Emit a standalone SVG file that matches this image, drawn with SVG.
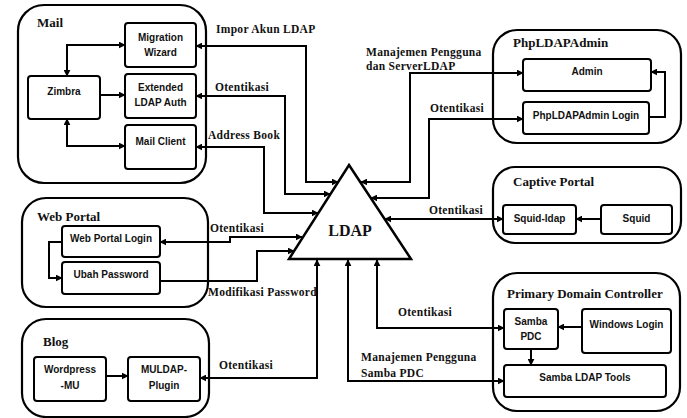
<svg xmlns="http://www.w3.org/2000/svg" width="687" height="418" viewBox="0 0 687 418">
<defs>
<marker id="ah" viewBox="0 0 10 10" refX="9" refY="5" markerWidth="7" markerHeight="7" markerUnits="userSpaceOnUse" orient="auto-start-reverse">
<path d="M0,0 L10,5 L0,10 z" fill="#000"/>
</marker>
<style>
.grp{fill:#fff;stroke:#000;stroke-width:2.2}
.box{fill:#fff;stroke:#000;stroke-width:2}
.t{font-family:"Liberation Sans",Arial,sans-serif;font-weight:bold;font-size:10px;fill:#111;text-anchor:middle}
.title{font-family:"Liberation Serif","Times New Roman",serif;font-weight:bold;font-size:13px;fill:#111}
.lbl{font-family:"Liberation Serif","Times New Roman",serif;font-weight:bold;font-size:11.5px;fill:#111;letter-spacing:0.3px}
.c{fill:none;stroke:#000;stroke-width:2}
.a1{marker-end:url(#ah)}
.a2{marker-start:url(#ah);marker-end:url(#ah)}
</style>
</defs>
<rect width="687" height="418" fill="#fff"/>

<g id="mail">
<rect class="grp" x="18" y="5" width="188" height="178" rx="26"/>
<text class="title" x="37" y="27">Mail</text>
</g>
<g id="migration-wizard">
<rect class="box" x="125" y="23" width="71" height="44" rx="3"/>
<text class="t" x="160.5" y="41">Migration</text>
<text class="t" x="160.5" y="56">Wizard</text>
</g>
<g id="extended-ldap-auth">
<rect class="box" x="125" y="74" width="71" height="44" rx="3"/>
<text class="t" x="160.5" y="91">Extended</text>
<text class="t" x="160.5" y="106">LDAP Auth</text>
</g>
<g id="mail-client">
<rect class="box" x="125" y="125" width="71" height="44" rx="3"/>
<text class="t" x="160.5" y="145">Mail Client</text>
</g>
<g id="zimbra">
<rect class="box" x="28" y="76" width="72" height="43" rx="3"/>
<text class="t" x="64" y="95">Zimbra</text>
</g>

<g id="web-portal">
<rect class="grp" x="22" y="198" width="186" height="109" rx="24"/>
<text class="title" x="37" y="221">Web Portal</text>
</g>
<g id="web-portal-login">
<rect class="box" x="62" y="226" width="98" height="31" rx="3"/>
<text class="t" x="111" y="242">Web Portal Login</text>
</g>
<g id="ubah-password">
<rect class="box" x="62" y="262" width="98" height="32" rx="3"/>
<text class="t" x="111" y="278">Ubah Password</text>
</g>

<g id="blog">
<rect class="grp" x="22" y="319" width="187" height="98" rx="24"/>
<text class="title" x="43" y="346">Blog</text>
</g>
<g id="wordpress-mu">
<rect class="box" x="34" y="357" width="72" height="44" rx="3"/>
<text class="t" x="70" y="373">Wordpress</text>
<text class="t" x="70" y="389">-MU</text>
</g>
<g id="muldap-plugin">
<rect class="box" x="128" y="357" width="72" height="44" rx="3"/>
<text class="t" x="164" y="373">MULDAP-</text>
<text class="t" x="164" y="389">Plugin</text>
</g>

<g id="ldap">
<polygon points="349,165 411,259 289,259" fill="#fff" stroke="#000" stroke-width="2.5" stroke-linejoin="miter"/>
<text x="350" y="236" font-family="'Liberation Serif','Times New Roman',serif" font-weight="bold" font-size="16" text-anchor="middle" fill="#111">LDAP</text>
</g>

<g id="phpldapadmin">
<rect class="grp" x="493" y="30" width="188" height="113" rx="24"/>
<text class="title" x="513" y="47">PhpLDAPAdmin</text>
</g>
<g id="admin">
<rect class="box" x="523" y="59" width="128" height="32" rx="3"/>
<text class="t" x="587" y="75">Admin</text>
</g>
<g id="phpldapadmin-login">
<rect class="box" x="523" y="102" width="126" height="32" rx="3"/>
<text class="t" x="586" y="119">PhpLDAPAdmin Login</text>
</g>

<g id="captive-portal">
<rect class="grp" x="493" y="167" width="188" height="76" rx="22"/>
<text class="title" x="513" y="186">Captive Portal</text>
</g>
<g id="squid-ldap">
<rect class="box" x="503" y="205" width="73" height="29" rx="3"/>
<text class="t" x="539.5" y="222">Squid-ldap</text>
</g>
<g id="squid">
<rect class="box" x="601" y="205" width="71" height="29" rx="3"/>
<text class="t" x="636.5" y="222">Squid</text>
</g>

<g id="pdc">
<rect class="grp" x="493" y="273" width="187" height="138" rx="24"/>
<text class="title" x="507" y="298">Primary Domain Controller</text>
</g>
<g id="samba-pdc">
<rect class="box" x="504" y="309" width="54" height="40" rx="3"/>
<text class="t" x="531" y="325">Samba</text>
<text class="t" x="531" y="340">PDC</text>
</g>
<g id="windows-login">
<rect class="box" x="582" y="309" width="89" height="44" rx="3"/>
<text class="t" x="626.5" y="328">Windows Login</text>
</g>
<g id="samba-ldap-tools">
<rect class="box" x="504" y="365" width="162" height="32" rx="3"/>
<text class="t" x="585" y="381">Samba LDAP Tools</text>
</g>

<g id="connectors">
<path class="c a2" d="M67,76 V45 H125"/>
<path class="c a1" d="M100,95 H125"/>
<path class="c a2" d="M67,119 V146 H125"/>
<path class="c a2" d="M196,46 H306 V182 H338"/>
<path class="c a2" d="M196,96 H285 V194 H330"/>
<path class="c a2" d="M196,147 H264 V213 H318"/>
<path class="c a1" d="M62,242 H49 V278 H62"/>
<path class="c a2" d="M160,242 H230 V237 H302"/>
<path class="c a1" d="M160,281 H257 V251 H294"/>
<path class="c a1" d="M106,376 H128"/>
<path class="c a2" d="M200,378 H317 V260"/>
<path class="c a2" d="M523,73 H410 V182 H361"/>
<path class="c a2" d="M523,119 H429 V198 H371"/>
<path class="c a1" d="M649,117 H665 V72 H651"/>
<path class="c a2" d="M503,219 H385"/>
<path class="c a1" d="M601,219 H576"/>
<path class="c a2" d="M377,260 V328 H504"/>
<path class="c a2" d="M348,260 V381 H504"/>
<path class="c a1" d="M582,327 H558"/>
<path class="c a1" d="M531,349 V365"/>
</g>

<g id="labels">
<text class="lbl" x="216" y="33">Impor Akun LDAP</text>
<text class="lbl" x="215" y="91">Otentikasi</text>
<text class="lbl" x="208" y="139">Address Book</text>
<text class="lbl" x="210" y="232">Otentikasi</text>
<text class="lbl" x="208" y="296">Modifikasi Password</text>
<text class="lbl" x="219" y="369">Otentikasi</text>
<text class="lbl" x="366" y="56">Manajemen Pengguna</text>
<text class="lbl" x="366" y="70">dan ServerLDAP</text>
<text class="lbl" x="430" y="112">Otentikasi</text>
<text class="lbl" x="429" y="214">Otentikasi</text>
<text class="lbl" x="398" y="316">Otentikasi</text>
<text class="lbl" x="361" y="361">Manajemen Pengguna</text>
<text class="lbl" x="361" y="377">Samba PDC</text>
</g>
</svg>
